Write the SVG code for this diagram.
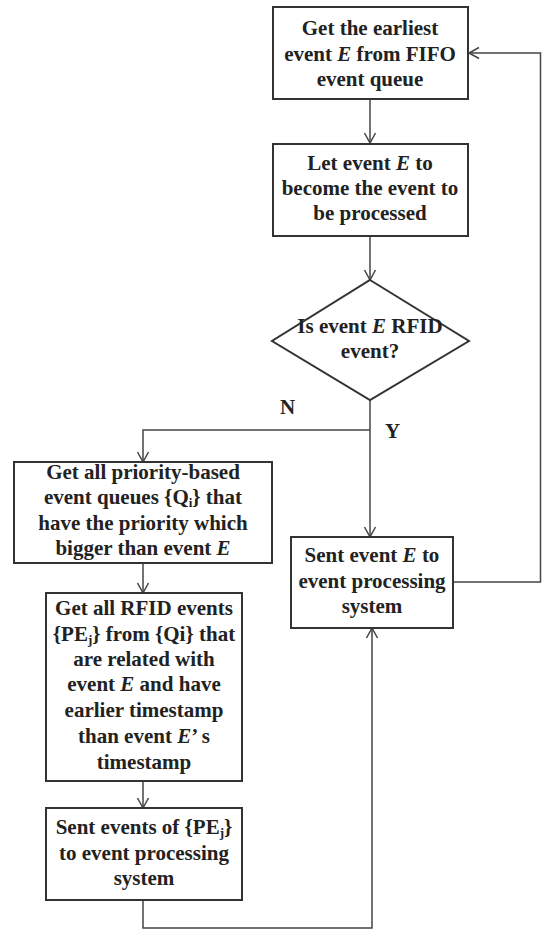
<svg xmlns="http://www.w3.org/2000/svg" width="542" height="929" viewBox="0 0 542 929">
<style>
.box{fill:#fff;stroke:#333;stroke-width:2}
.c{fill:none;stroke:#444;stroke-width:1.5}
text{font-family:"Liberation Serif","Times New Roman",serif;font-weight:bold;font-size:21px;fill:#222;text-anchor:middle}
.i{font-style:italic}
.lbl{text-anchor:start}
</style>
<defs>
<marker id="a" markerUnits="userSpaceOnUse" markerWidth="14" markerHeight="14" refX="11" refY="7" orient="auto">
<path d="M1,1.5 L11,7 L1,12.5" fill="none" stroke="#444" stroke-width="1.5"/>
</marker>
</defs>
<g id="connectors">
<path class="c" d="M370,99 V143" marker-end="url(#a)"/>
<path class="c" d="M370,236 V280" marker-end="url(#a)"/>
<path class="c" d="M370,400 V537" marker-end="url(#a)"/>
<path class="c" d="M370,430 H143 V462" marker-end="url(#a)"/>
<path class="c" d="M143,563 V593" marker-end="url(#a)"/>
<path class="c" d="M143,781 V808" marker-end="url(#a)"/>
<path class="c" d="M143,900 V928 H372 V628" marker-end="url(#a)"/>
<path class="c" d="M453,582 H540.5 V53 H469" marker-end="url(#a)"/>
<text class="lbl" x="280" y="414">N</text>
<text class="lbl" x="385" y="438">Y</text>
</g>
<g id="n1">
<rect class="box" x="273" y="7" width="195" height="92"/>
<text x="370" y="35">Get the earliest</text>
<text x="370" y="61">event <tspan class="i">E</tspan> from FIFO</text>
<text x="370" y="86">event queue</text>
</g>
<g id="n2">
<rect class="box" x="273" y="144" width="195" height="92"/>
<text x="370" y="170">Let event <tspan class="i">E</tspan> to</text>
<text x="370" y="195">become the event to</text>
<text x="370" y="220">be processed</text>
</g>
<g id="n3">
<polygon class="box" points="370,280 469,341 370,400 272,341"/>
<text x="370" y="333">Is event <tspan class="i">E</tspan> RFID</text>
<text x="370" y="358">event?</text>
</g>
<g id="n4">
<rect class="box" x="14" y="462" width="258" height="101"/>
<text x="143" y="479">Get all priority-based</text>
<text x="143" y="504">event queues {Q<tspan font-size="13" dy="3">i</tspan><tspan dy="-3">} that</tspan></text>
<text x="143" y="530">have the priority which</text>
<text x="143" y="555">bigger than event <tspan class="i">E</tspan></text>
</g>
<g id="n5">
<rect class="box" x="46" y="593" width="196" height="188"/>
<text x="144" y="615">Get all RFID events</text>
<text x="144" y="641">{PE<tspan font-size="13" dy="3">j</tspan><tspan dy="-3">} from {Qi} that</tspan></text>
<text x="144" y="666">are related with</text>
<text x="144" y="691">event <tspan class="i">E</tspan> and have</text>
<text x="144" y="717">earlier timestamp</text>
<text x="144" y="743">than event <tspan class="i">E</tspan>’ s</text>
<text x="144" y="769">timestamp</text>
</g>
<g id="n6">
<rect class="box" x="46" y="808" width="196" height="92"/>
<text x="144" y="834">Sent events of {PE<tspan font-size="13" dy="3">j</tspan><tspan dy="-3">}</tspan></text>
<text x="144" y="860">to event processing</text>
<text x="144" y="885">system</text>
</g>
<g id="n7">
<rect class="box" x="291" y="537" width="162" height="91"/>
<text x="372" y="562">Sent event <tspan class="i">E</tspan> to</text>
<text x="372" y="588">event processing</text>
<text x="372" y="613">system</text>
</g>
</svg>
